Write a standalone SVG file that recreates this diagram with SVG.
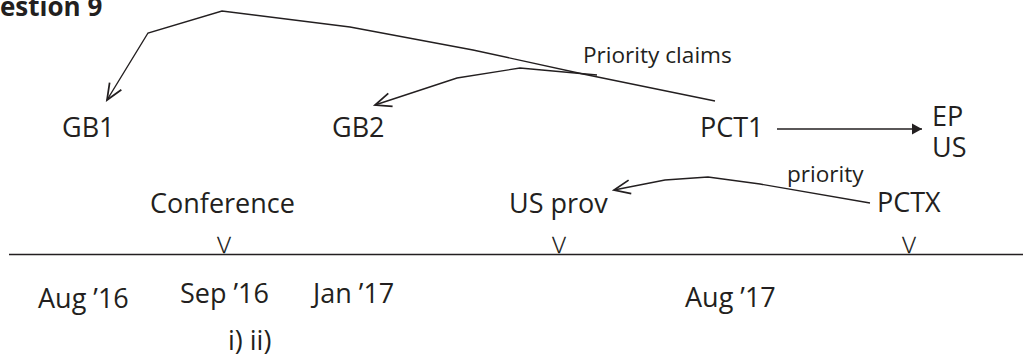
<svg xmlns="http://www.w3.org/2000/svg" width="1023" height="360" viewBox="0 0 1023 360">
  <style>
    text { font-family: "Open Sans", "Liberation Sans", sans-serif; fill: #231f20; }
    .lbl { font-size: 27px; }
    .small { font-size: 22.6px; }
    .title { font-size: 26px; font-weight: bold; }
    .tick { font-family: "DejaVu Sans", "Liberation Sans", sans-serif; font-size: 22px; font-weight: 200; text-anchor: middle; fill: #000; stroke: #231f20; stroke-width: 0.3; }
    .conn { fill: none; stroke: #231f20; stroke-width: 1.4; stroke-linejoin: miter; }
  </style>
  <defs>
    <marker id="open-head" markerUnits="userSpaceOnUse" markerWidth="20" markerHeight="20" refX="0" refY="0" viewBox="-14 -8 16 16" orient="auto">
      <path d="M-13,-5.5 L0,0 L-13,5.5" fill="none" stroke="#231f20" stroke-width="1.4"/>
    </marker>
    <marker id="solid-head" markerUnits="userSpaceOnUse" markerWidth="14" markerHeight="14" refX="0" refY="0" viewBox="-12 -7 14 14" orient="auto">
      <path d="M-10,-5.5 L0,0 L-10,5.5 Z" fill="#231f20"/>
    </marker>
  </defs>

  <text class="title" x="0" y="16">estion 9</text>

  <!-- time axis -->
  <line x1="9" y1="254.5" x2="1023" y2="254.5" stroke="#231f20" stroke-width="1.4"/>

  <g id="gb1"><text class="lbl" x="62" y="137">GB1</text></g>
  <g id="gb2"><text class="lbl" x="332" y="137">GB2</text></g>
  <g id="pct1"><text class="lbl" x="700" y="137">PCT1</text></g>
  <g id="ep-us">
    <text class="lbl" x="932" y="126">EP<tspan x="932" dy="31">US</tspan></text>
  </g>
  <g id="conference">
    <text class="lbl" x="150" y="213">Conference</text>
    <text class="tick" x="224" y="253">V</text>
  </g>
  <g id="us-prov">
    <text class="lbl" x="509" y="213">US prov</text>
    <text class="tick" x="559" y="253">V</text>
  </g>
  <g id="pctx">
    <text class="lbl" x="877" y="212">PCTX</text>
    <text class="tick" x="909" y="253">V</text>
  </g>

  <g id="dates">
    <text class="lbl" x="38" y="308">Aug ’16</text>
    <text class="lbl" x="180" y="303">Sep ’16</text>
    <text class="lbl" x="228" y="350">i) ii)</text>
    <text class="lbl" x="313" y="303">Jan ’17</text>
    <text class="lbl" x="685" y="307">Aug ’17</text>
  </g>

  <g id="connectors">
    <!-- priority claims from PCT1 back to GB1 and GB2 -->
    <polyline class="conn" marker-end="url(#open-head)" points="715,101 583,74 473,50 350,27 222,11 148,33 107,100"/>
    <polyline class="conn" marker-end="url(#open-head)" points="597,75 520,68 457,78 375,105"/>
    <text class="small" x="583" y="63">Priority claims</text>
    <!-- national / regional phase -->
    <line class="conn" marker-end="url(#solid-head)" x1="777" y1="129" x2="922" y2="129"/>
    <!-- PCTX claims priority from the US provisional -->
    <polyline class="conn" marker-end="url(#open-head)" points="870,203 760,184 708,177 665,180 614,190"/>
    <text class="small" x="787" y="182">priority</text>
  </g>
</svg>
